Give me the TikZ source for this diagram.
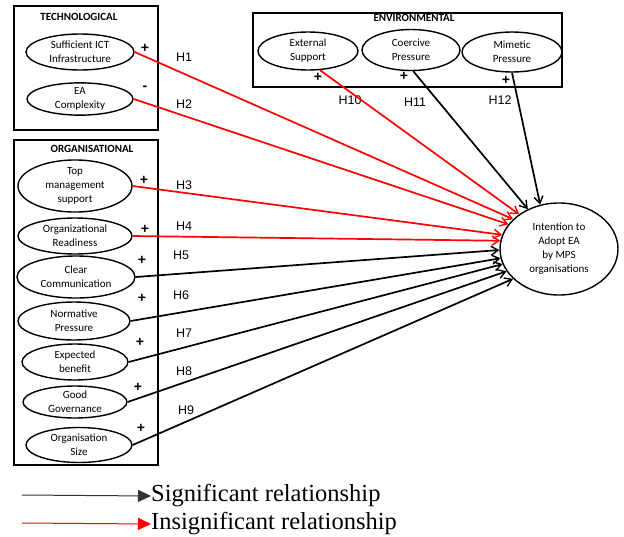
\documentclass[tikz,border=0pt]{standalone}
\usepackage{fontspec}
\newfontfamily\calib{Carlito}
\newfontfamily\arialf{Liberation Sans}
\newfontfamily\timesf{Liberation Serif}
\usetikzlibrary{shapes.geometric,arrows.meta}
\begin{document}
\begin{tikzpicture}[x=1pt,y=-1pt,
  grp/.style={draw,line width=1.5pt},
  ttl/.style={font=\calib\bfseries\fontsize{11}{12}\selectfont,inner sep=0},
  fac/.style={draw,ellipse,line width=1.4pt,inner sep=0,align=center,font=\calib\fontsize{11}{14}\selectfont},
  hlab/.style={font=\arialf\fontsize{12.5}{14}\selectfont,inner sep=0},
  sgn/.style={font=\arialf\bfseries\fontsize{14}{16}\selectfont,inner sep=0},
  sig/.style={draw=black,line width=1.7pt,-{Straight Barb[length=7pt,width=9pt,line width=1.4pt]}},
  ins/.style={draw=red,line width=1.7pt,-{Straight Barb[length=7pt,width=9pt,line width=1.4pt]}},
  leg/.style={font=\timesf\fontsize{24.5}{26}\selectfont,inner sep=0,anchor=west}
]
\useasboundingbox (0,0) rectangle (624,536);
% group boxes
\node[grp,minimum width=144pt,minimum height=124pt,inner sep=0] (tbox) at (86,68) {};
\node[grp,minimum width=144pt,minimum height=325pt,inner sep=0] (obox) at (86,302.5) {};
\node[grp,minimum width=309pt,minimum height=74pt,inner sep=0] (ebox) at (407.5,50) {};
\node[ttl] (tt) at (79,17) {TECHNOLOGICAL};
\node[ttl] (ot) at (92,149) {ORGANISATIONAL};
\node[ttl] (et) at (414,18) {ENVIRONMENTAL};
% factors
\node[fac,minimum width=108pt,minimum height=36pt] (ict) at (80,52) {Sufficient ICT\\Infrastructure};
\node[fac,minimum width=106pt,minimum height=32pt] (eac) at (80,99) {EA\\Complexity};
\node[fac,minimum width=114pt,minimum height=52pt] (top) at (75,186) {Top\\management\\support};
\node[fac,minimum width=114pt,minimum height=36pt] (ordy) at (75,236) {Organizational\\Readiness};
\node[fac,minimum width=118pt,minimum height=42pt] (cc) at (76,277) {Clear\\Communication};
\node[fac,minimum width=112pt,minimum height=38pt] (np) at (74,321) {Normative\\Pressure};
\node[fac,minimum width=106pt,minimum height=36pt] (eb) at (75,362) {Expected\\benefit};
\node[fac,minimum width=104pt,minimum height=32pt] (gg) at (75,402) {Good\\Governance};
\node[fac,minimum width=106pt,minimum height=35pt] (os) at (79,445) {Organisation\\Size};
\node[fac,minimum width=100pt,minimum height=38pt] (ext) at (308,51) {External\\Support};
\node[fac,minimum width=98pt,minimum height=41pt] (coe) at (411,50) {Coercive\\Pressure};
\node[fac,minimum width=100pt,minimum height=40pt] (mim) at (512,52) {Mimetic\\Pressure};
\node[fac,minimum width=118pt,minimum height=92pt] (tgt) at (559,249) {Intention to\\Adopt EA\\by MPS\\organisations};
% signs
\node[sgn] (s1) at (145,48) {+};
\node[sgn] (s2) at (145,88) {-};
\node[sgn] (s3) at (144,180) {+};
\node[sgn] (s4) at (145,229) {+};
\node[sgn] (s5) at (142,260) {+};
\node[sgn] (s6) at (142,298) {+};
\node[sgn] (s7) at (140,342) {+};
\node[sgn] (s8) at (138,387) {+};
\node[sgn] (s9) at (141,428) {+};
\node[sgn] (s10) at (318,77) {+};
\node[sgn] (s11) at (404,76) {+};
\node[sgn] (s12) at (506,80) {+};
% hypothesis labels
\node[hlab] (h1) at (184,57) {H1};
\node[hlab] (h2) at (184,104) {H2};
\node[hlab] (h3) at (184,185) {H3};
\node[hlab] (h4) at (184,226) {H4};
\node[hlab] (h5) at (181,255) {H5};
\node[hlab] (h6) at (181,295) {H6};
\node[hlab] (h7) at (184,333) {H7};
\node[hlab] (h8) at (184,371) {H8};
\node[hlab] (h9) at (186,410) {H9};
\node[hlab] (h10) at (350,100) {H10};
\node[hlab] (h11) at (415,102) {H11};
\node[hlab] (h12) at (500,100) {H12};
% connectors
\draw[ins] (ict.east) -- (tgt.147);
\draw[ins] (eac.east) -- (tgt.154);
\draw[ins] (top.east) -- (tgt.166);
\draw[ins] (ordy.east) -- (tgt.172);
\draw[sig] (cc.east) -- (tgt.181);
\draw[sig] (np.east) -- (tgt.189);
\draw[sig] (eb.east) -- (tgt.195);
\draw[sig] (gg.east) -- (tgt.203);
\draw[sig] (os.east) -- (tgt.213);
\draw[ins] (ext.-58) -- (tgt.139);
\draw[sig] (coe.-84) -- (tgt.128);
\draw[sig] (mim.south) -- (tgt.113);
% legend
\coordinate (la1) at (22,495);
\coordinate (la2) at (22,523);
\node[leg] (l1) at (151,496) {Significant relationship};
\node[leg] (l2) at (151,524) {Insignificant relationship};
\draw[line width=1pt,draw=black!80,-{Triangle[length=13pt,width=12pt]}] (la1) -- (l1.west);
\draw[line width=1pt,draw=red,-{Triangle[length=13pt,width=12pt]}] (la2) -- (l2.west);
\end{tikzpicture}
\end{document}
